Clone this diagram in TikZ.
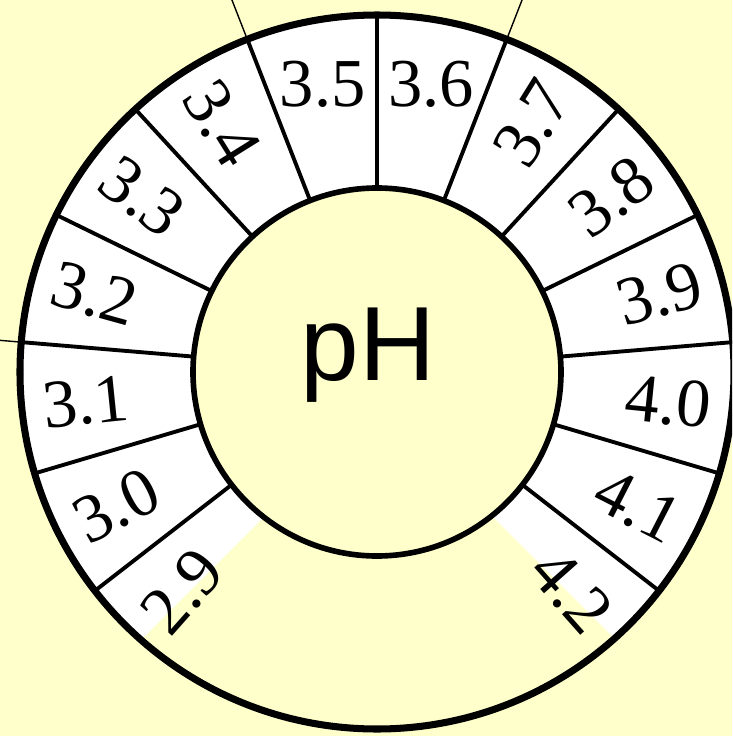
\documentclass[tikz,border=0pt]{standalone}
\usepackage{fontspec}
\usepackage{tikz}
\newfontfamily\dialfont{Liberation Serif}
\newfontfamily\phfont{Liberation Sans}
\definecolor{dialyellow}{RGB}{255,255,204}

\begin{document}
\begin{tikzpicture}[x=0.01cm, y=0.01cm,
    divline/.style={line width=1.1pt, black},
    extline/.style={line width=0.4pt, black},
    reading/.style={font=\dialfont\fontsize{19.5}{19.5}\selectfont, inner sep=0pt}
]
\clip (-377,-364) rectangle (355,372);
\fill[dialyellow] (-377,-364) rectangle (355,372);
% white scale ring, open at the bottom
\fill[white, even odd rule] (0,0) circle (357) (0,0) circle (184);
\fill[dialyellow] (1.5,-30.5) -- (-700,-732) -- (703,-732) -- cycle;
% divisions
\foreach \k in {-6,...,6}
    \draw[divline] ({90+\k*21.3}:184) -- ({90+\k*21.3}:357);
\foreach \k in {-1,1,4}
    \draw[extline] ({90+\k*21.3}:357) -- ({90+\k*21.3}:700);
\draw[line width=1.6pt, fill=dialyellow] (0,0) circle (184);
\draw[line width=2pt] (0,0) circle (357);
% readings
\foreach \v/\k/\r in {4.2/-7/-48.45, 4.1/-6/-27.15, 4.0/-5/-5.85,
    3.9/-4/15.45, 3.8/-3/36.75, 3.7/-2/58.05, 3.6/-1/0, 3.5/0/0,
    3.4/1/-58.05, 3.3/2/-36.75, 3.2/3/-15.45, 3.1/4/5.85,
    3.0/5/27.15, 2.9/6/48.45}
    \node[reading, rotate=\r] (lbl\k) at ({90+(\k+0.5)*21.3}:293) {\v};
\node[font=\phfont\fontsize{30}{30}\selectfont, anchor=base, inner sep=0pt]
    (ph) at (-9,-8) {pH};
\end{tikzpicture}
\end{document}
